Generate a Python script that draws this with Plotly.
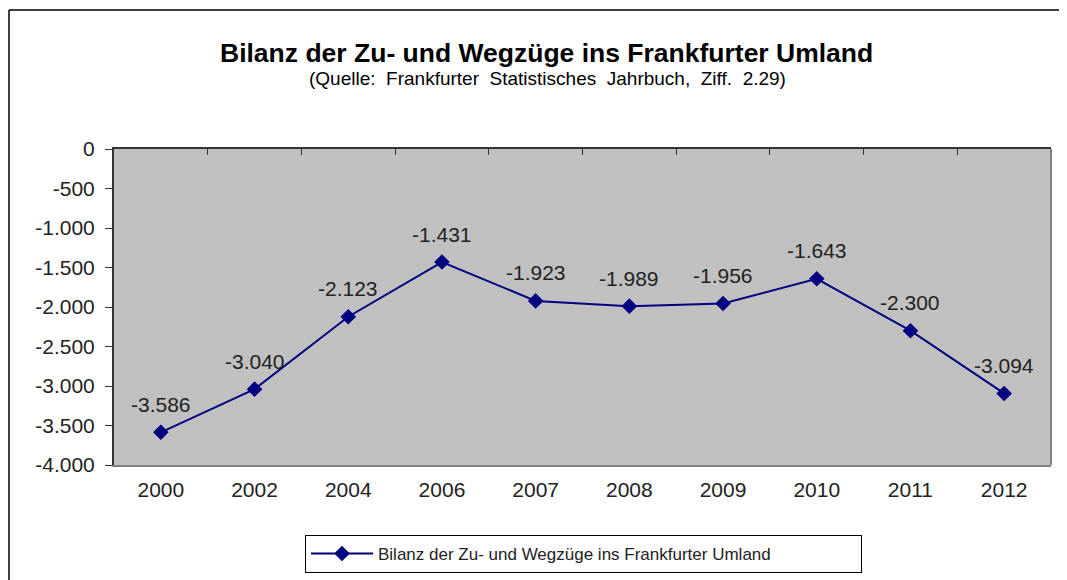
import plotly.graph_objects as go

years = ["2000", "2002", "2004", "2006", "2007", "2008", "2009", "2010", "2011", "2012"]
values = [-3586, -3040, -2123, -1431, -1923, -1989, -1956, -1643, -2300, -3094]
series_name = "Bilanz der Zu- und Wegzüge ins Frankfurter Umland"
title_text = "Bilanz der Zu- und Wegzüge ins Frankfurter Umland"
subtitle_text = "(Quelle:  Frankfurter  Statistisches  Jahrbuch,  Ziff.  2.29)"
y_ticks = list(range(-4000, 1, 500))


def de_fmt(v):
    s = f"{abs(v):,}".replace(",", ".")
    return ("-" if v < 0 else "") + s


FONT = "Liberation Sans, Arial, sans-serif"
NAVY = "#000080"

# page offset (body margin) = 8 px
PL, PR, PT, PB = 114, 1051, 149, 465
PW, PH = PR - PL, PB - PT


def px(xp):
    return (xp - PL) / PW


def py(yp):
    return (PB - yp) / PH


fig = go.Figure()
fig.add_trace(go.Scatter(
    x=years, y=values, mode="lines+markers", name=series_name,
    line=dict(color=NAVY, width=2),
    marker=dict(symbol="diamond", size=12, color=NAVY),
))
# top boundary ticks (category axis crossing at 0)
fig.add_trace(go.Scatter(x=years, y=values, xaxis="x2", mode="none",
                         showlegend=False, hoverinfo="skip"))

for i, v in enumerate(values):
    fig.add_annotation(x=i, y=v, text=de_fmt(v), showarrow=False,
                       yshift=28, font=dict(family=FONT, size=21, color="#222"))

fig.add_annotation(xref="paper", yref="paper", x=px(546), y=py(53),
                   text="<b>" + title_text + "</b>", showarrow=False,
                   font=dict(family=FONT, size=26.5, color="#000"), yanchor="middle")
fig.add_annotation(xref="paper", yref="paper", x=px(547), y=py(79),
                   text=subtitle_text, showarrow=False,
                   font=dict(family=FONT, size=19, color="#000"), yanchor="middle")

# outer chart frame (left and top edges visible)
fx0 = px(9)
fy0 = py(10)
fig.add_shape(type="line", xref="paper", yref="paper", x0=fx0, x1=fx0, y0=fy0, y1=-0.6,
              line=dict(color="#000", width=1.5))
fig.add_shape(type="line", xref="paper", yref="paper", x0=fx0, x1=1.2, y0=fy0, y1=fy0,
              line=dict(color="#000", width=1.5))
# right edge of plot area
fig.add_shape(type="line", xref="paper", yref="paper", x0=1, x1=1, y0=0, y1=1,
              line=dict(color="#808080", width=2))

fig.update_layout(
    width=1067, height=580,
    margin=dict(l=PL - 8, r=1067 - (PR - 8), t=PT - 8, b=580 - (PB - 8)),
    paper_bgcolor="#ffffff", plot_bgcolor="#C0C0C0",
    font=dict(family=FONT, size=21, color="#222"),
    separators=",.",
    showlegend=True,
    legend=dict(orientation="h", x=px(305), xanchor="left",
                y=py(535), yanchor="top",
                bordercolor="#000", borderwidth=1, bgcolor="#fff",
                font=dict(family=FONT, size=17, color="#222"),
                itemwidth=62,
                entrywidth=478, entrywidthmode="pixels"),
    xaxis=dict(type="category", range=[-0.5, 9.5], showgrid=False, zeroline=False,
               showline=True, linecolor="#808080", linewidth=2, ticks="",
               ticklabelstandoff=5, tickfont=dict(size=21, color="#222")),
    xaxis2=dict(type="category", overlaying="x", side="top", anchor="y", range=[-0.5, 9.5],
                showgrid=False, zeroline=False, showline=True, linecolor="#333", linewidth=2,
                ticks="inside", tickson="boundaries", ticklen=6, tickcolor="#333",
                showticklabels=False),
    yaxis=dict(range=[-4000, 0], tickvals=y_ticks, ticktext=[de_fmt(v) for v in y_ticks],
               showgrid=False, zeroline=False, showline=True, linecolor="#333", linewidth=2,
               ticks="outside", ticklen=7, tickcolor="#333", ticklabelstandoff=6,
               tickfont=dict(size=21, color="#222")),
)

fig.write_html("out.html")
